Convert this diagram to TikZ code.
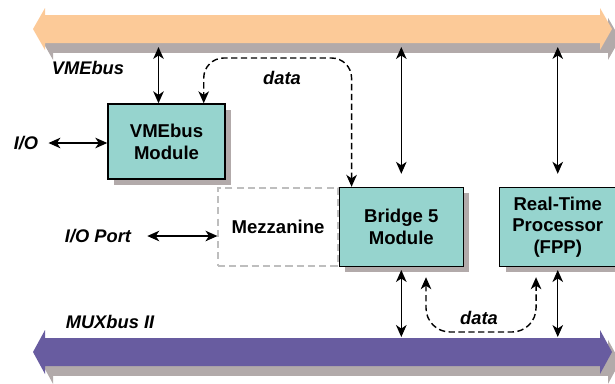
\documentclass[tikz,border=0pt]{standalone}
\usepackage{fontspec}
\setmainfont{Liberation Sans}
\usepackage{xcolor}
\usepackage{tikz}
\usetikzlibrary{arrows.meta, positioning, shadows, calc}

\definecolor{vmeorange}{RGB}{252,202,152}
\definecolor{muxpurple}{RGB}{104,92,160}
\definecolor{moduleteal}{RGB}{150,212,206}
\definecolor{shadowgray}{RGB}{178,170,170}
\definecolor{mezzgray}{RGB}{190,190,190}

\tikzstyle{link} = [line width=1pt,<->,>={Stealth[length=8.5pt,width=7.5pt,inset=2.5pt]}]
\tikzstyle{datalink} = [link, dash pattern=on 4.5pt off 2.5pt]
\tikzstyle{module} = [rectangle, line width=1pt, draw=black, fill=moduleteal, align=center, minimum height=1.975cm, drop shadow={shadow xshift=4.2pt, shadow yshift=-4.2pt, fill=shadowgray, opacity=1}]
\tikzstyle{mezzbox} = [rectangle, thick, draw=mezzgray, dash pattern=on 5pt off 3pt, minimum width=3cm, minimum height=1.95cm]
\tikzstyle{bus} = [drop shadow={shadow xshift=5.7pt, shadow yshift=-7pt, fill=shadowgray, opacity=1}]
\tikzstyle{buslabel} = [font=\fontsize{13}{15}\selectfont\bfseries\itshape, inner sep=0.15cm]

\begin{document}
\begin{tikzpicture}[
    x=0.025cm, y=-0.025cm,
    every node/.style={font=\fontsize{13.2}{15.5}\selectfont\bfseries}
]
\useasboundingbox (0,0) rectangle (615,383);

% the two backplane buses
\path[bus, fill=vmeorange] (33,29) -- (45,8) -- (45,15) -- (600,15) -- (600,8) -- (612,29)
    -- (600,50) -- (600,43) -- (45,43) -- (45,50) -- cycle;
\path[bus, fill=muxpurple] (33,352) -- (45,330) -- (45,338) -- (600,338) -- (600,330) -- (612,352)
    -- (600,374) -- (600,366) -- (45,366) -- (45,374) -- cycle;

\coordinate (vmeedge) at (0,47);
\coordinate (muxedge) at (0,337);
\coordinate (datatop) at (0,58);
\coordinate (databot) at (0,332);

% boards
\node[module, minimum width=2.925cm, minimum height=1.875cm] (vmemod) at (166.5,141.5) {VMEbus\\Module};
\node[mezzbox] (mezz) at (278,227) {Mezzanine};
\node[module, right=0pt of mezz, minimum width=3.1cm] (bridge) {Bridge 5\\Module};
\node[module, right=0.875cm of bridge, minimum width=2.9cm] (rtp) {Real-Time\\Processor\\(FPP)};

% labels
\node[buslabel] (vmelbl) at (88,68) {VMEbus};
\node[buslabel] (muxlbl) at (110,322) {MUXbus II};
\node[buslabel] (io) at (26,143) {I/O};
\node[buslabel] (ioport) at (98,236) {I/O Port};
\node[buslabel] (datau) at (282,78) {data};
\node[buslabel] (datal) at (479,318) {data};

% bus connections
\coordinate (vmeport) at ([xshift=-0.2cm]vmemod.north);
\draw[link] (vmeport) -- (vmeport |- vmeedge);
\draw[link] ([xshift=0.1cm]io.east) -- (io.east -| vmemod.west);
\draw[link] ([xshift=0.25cm]ioport.east) -- (ioport.east -| mezz.west);
\draw[link] ([yshift=0.325cm]bridge.north) -- (bridge.north |- vmeedge);
\draw[link] ([yshift=0.325cm]rtp.north) -- (rtp.north |- vmeedge);
\draw[link] ([yshift=-0.07cm]bridge.south) -- (bridge.south |- muxedge);
\draw[link] ([yshift=-0.07cm]rtp.south) -- (rtp.south |- muxedge);

% data paths
\coordinate (dataA) at ([xshift=0.325cm]bridge.north west);
\coordinate (dataB) at ([xshift=-0.55cm]vmemod.north east);
\draw[datalink, rounded corners=0.5cm] (dataA) -- (dataA |- datatop) -- (dataB |- datatop) -- (dataB);
\coordinate (dataC) at ([xshift=-0.95cm, yshift=-0.25cm]bridge.south east);
\coordinate (dataD) at ([xshift=0.925cm, yshift=-0.25cm]rtp.south west);
\draw[datalink, rounded corners=0.6cm] (dataC) -- (dataC |- databot) -- (dataD |- databot) -- (dataD);

\end{tikzpicture}
\end{document}
